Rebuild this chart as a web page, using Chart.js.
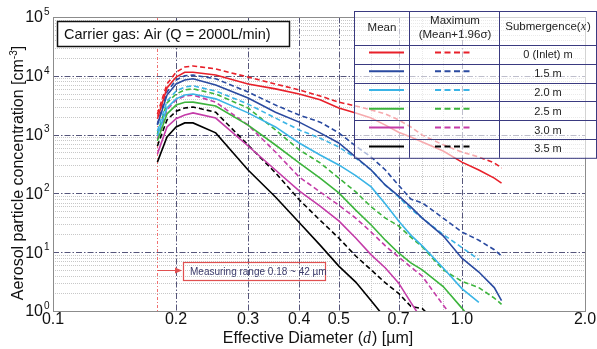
<!DOCTYPE html>
<html>
<head>
<meta charset="utf-8">
<script src="https://cdn.jsdelivr.net/npm/chart.js@4.4.1/dist/chart.umd.min.js"></script>
<style>
  html, body { margin: 0; padding: 0; background: #fff; }
</style>
</head>
<body>
<canvas id="grafico" width="597" height="349"></canvas>
<script>
// diameters (um) where the curves were read
const diameters = [0.18, 0.19, 0.2, 0.21, 0.22, 0.25, 0.3, 0.35, 0.4, 0.45, 0.5, 0.55, 0.6, 0.65, 0.7, 0.75, 0.8, 0.9, 1.0, 1.1, 1.2, 1.25];

// concentrations [cm^-3]
const mean0  = [1860, 6200, 9500, 11500, 11500, 10300, 7250, 6000, 4900, 3900, 2830, 2340, 1910, 1450, 1100, 910, 750, 525, 340, 250, 182, 150];
const max0   = [2240, 7250, 11500, 14100, 14700, 13100, 9500, 7250, 5740, 4540, 3560, 3070, 2630, 2240, 1780, 1350, 980, 670, 505, 415, 330, 270];
const mean15 = [1450, 4700, 7250, 8500, 8900, 6950, 4200, 2400, 1630, 1070, 720, 415, 250, 138, 91, 59, 38, 19, 7.9, 4.6, 2.5, 1.5];
const max15  = [1510, 5300, 8500, 10000, 10300, 8900, 5300, 3180, 2150, 1630, 1070, 640, 415, 250, 138, 80, 69, 38, 22, 16, 11, 8.6];
const mean20 = [955, 2830, 4050, 4700, 4900, 4050, 2340, 1350, 720, 450, 305, 200, 129, 66, 34, 19.5, 12.8, 5.4, 2.4, 1.4, null, null];
const max20  = [1150, 3720, 5500, 6450, 6750, 5500, 3300, 1910, 1200, 870, 615, 400, 250, 138, 87, 54, 38, 20, 12, 7.5, null, null];
const mean25 = [780, 2240, 3180, 3540, 3560, 3070, 1450, 665, 330, 182, 102, 52, 29, 16, 9.7, 6.6, 5, 2.6, 1.12, 0.5, null, null];
const max25  = [1020, 3470, 4900, 5750, 6000, 4900, 2830, 1200, 550, 330, 182, 106, 59, 38, 28, 18, 12.3, 5, 3.2, 2.5, 1.66, 1.3];
const mean30 = [470, 1350, 1860, 2150, 2340, 1910, 640, 250, 110, 61, 34, 17.4, 9, 5.4, 3, 1.4, 0.7, null, null, null, null, null];
const max30  = [850, 2630, 3900, 4540, 4700, 3560, 1450, 505, 190, 106, 63, 38, 22, 12.8, 8.3, 5.6, 3.9, 1.26, 0.5, null, null, null];
const mean35 = [340, 910, 1350, 1580, 1580, 1070, 250, 87, 32, 13.2, 5.8, 3.1, 1.5, 0.75, null, null, null, null, null, null, null, null];
const max35  = [640, 1780, 2500, 2830, 2950, 2400, 665, 224, 78, 35, 17.4, 8.6, 5, 3, 2, 1.2, 1.1, 0.5, null, null, null, null];

const submergence = ['0 (Inlet) m', '1.5 m', '2.0 m', '2.5 m', '3.0 m', '3.5 m'];
const colors = ['#e8202a', '#2a4aa0', '#3ab4e6', '#3cb43c', '#c43ca8', '#000000'];
const meanSeries = [mean0, mean15, mean20, mean25, mean30, mean35];
const maxSeries = [max0, max15, max20, max25, max30, max35];

// axes
const xTicks = [0.1, 0.2, 0.3, 0.4, 0.5, 0.7, 1.0, 2.0];
const xTickLabels = ['0.1', '0.2', '0.3', '0.4', '0.5', '0.7', '1.0', '2.0'];
const xMajorGrid = [0.2, 0.3, 0.4, 0.5, 0.7, 1.0];
const xMinorGrid = [0.6, 0.8, 0.9];
const yExponents = [0, 1, 2, 3, 4, 5];
const measuringStart = 0.18;

const FONT = "'Liberation Sans', Arial, sans-serif";

function toPoints(values) {
    return diameters.map((d, i) => ({ x: d, y: values[i] })).filter(p => p.y != null);
}

const datasets = [];
for (let i = 0; i < 6; i++) {
    datasets.push({
        label: 'Mean ' + submergence[i],
        data: toPoints(meanSeries[i]),
        borderColor: colors[i],
        borderWidth: 1.6,
        pointRadius: 0,
        tension: 0
    });
    datasets.push({
        label: 'Max ' + submergence[i],
        data: toPoints(maxSeries[i]),
        borderColor: colors[i],
        borderWidth: 1.6,
        borderDash: [5, 3],
        pointRadius: 0,
        tension: 0
    });
}

function line(ctx, x1, y1, x2, y2) {
    ctx.beginPath();
    ctx.moveTo(x1, y1);
    ctx.lineTo(x2, y2);
    ctx.stroke();
}

const gridPlugin = {
    id: 'gridPlugin',
    beforeDatasetsDraw(chart) {
        const ctx = chart.ctx;
        const a = chart.chartArea;
        const xs = chart.scales.x, ys = chart.scales.y;
        ctx.save();
        ctx.lineWidth = 1;
        // minor grid
        ctx.strokeStyle = '#c8c8c8';
        ctx.setLineDash([1, 1]);
        for (let e = 0; e < 5; e++) {
            for (let k = 2; k <= 9; k++) {
                const y = Math.round(ys.getPixelForValue(k * Math.pow(10, e))) + 0.5;
                line(ctx, a.left, y, a.right, y);
            }
        }
        xMinorGrid.forEach(v => {
            const x = Math.round(xs.getPixelForValue(v)) + 0.5;
            line(ctx, x, a.top, x, a.bottom);
        });
        // major grid
        ctx.strokeStyle = '#55557a';
        ctx.setLineDash([6, 2, 1.5, 2]);
        for (let e = 1; e < 5; e++) {
            const y = Math.round(ys.getPixelForValue(Math.pow(10, e))) + 0.5;
            line(ctx, a.left, y, a.right, y);
        }
        xMajorGrid.forEach(v => {
            const x = Math.round(xs.getPixelForValue(v)) + 0.5;
            line(ctx, x, a.top, x, a.bottom);
        });
        // measuring range line
        ctx.strokeStyle = '#f07070';
        ctx.setLineDash([3, 2, 1, 2]);
        const xr = Math.round(xs.getPixelForValue(measuringStart)) + 0.5;
        line(ctx, xr, a.top, xr, a.bottom);
        ctx.restore();
    },
    afterDatasetsDraw(chart) {
        const ctx = chart.ctx;
        const a = chart.chartArea;
        const xs = chart.scales.x, ys = chart.scales.y;
        ctx.save();

        // plot frame
        ctx.strokeStyle = '#8c8c8c';
        ctx.lineWidth = 1;
        ctx.setLineDash([]);
        ctx.strokeRect(a.left + 0.5, a.top + 0.5, a.right - a.left, a.bottom - a.top);

        // y tick labels 10^n
        ctx.fillStyle = '#111';
        ctx.textBaseline = 'middle';
        yExponents.forEach(n => {
            const y = ys.getPixelForValue(Math.pow(10, n));
            ctx.font = '16px ' + FONT;
            ctx.textAlign = 'right';
            ctx.fillText('10', 43, y + 1);
            ctx.font = '10px ' + FONT;
            ctx.textAlign = 'left';
            ctx.fillText(String(n), 44, y - 5);
        });

        // x tick labels
        ctx.font = '16px ' + FONT;
        ctx.textAlign = 'center';
        xTicks.forEach((v, i) => {
            ctx.fillText(xTickLabels[i], xs.getPixelForValue(v), 320);
        });

        // y title
        ctx.save();
        ctx.translate(19, 173);
        ctx.rotate(-Math.PI / 2);
        ctx.textAlign = 'left';
        ctx.textBaseline = 'middle';
        const t1 = 'Aerosol particle concentration [cm', t2 = '-3', t3 = ']';
        ctx.font = '16px ' + FONT;
        const w1 = ctx.measureText(t1).width, w3 = ctx.measureText(t3).width;
        ctx.font = '10px ' + FONT;
        const w2 = ctx.measureText(t2).width;
        let sx = -(w1 + w2 + w3) / 2;
        ctx.font = '16px ' + FONT;
        ctx.fillText(t1, sx, 0);
        ctx.font = '10px ' + FONT;
        ctx.fillText(t2, sx + w1, -5);
        ctx.font = '16px ' + FONT;
        ctx.fillText(t3, sx + w1 + w2, 0);
        ctx.restore();

        // x title
        ctx.textBaseline = 'middle';
        ctx.textAlign = 'left';
        const p1 = 'Effective Diameter (', p2 = 'd', p3 = ') [\u00b5m]';
        ctx.font = '16px ' + FONT;
        const q1 = ctx.measureText(p1).width, q3 = ctx.measureText(p3).width;
        ctx.font = 'italic 16px "Liberation Serif", serif';
        const q2 = ctx.measureText(p2).width + 1;
        let tx = 318 - (q1 + q2 + q3) / 2;
        ctx.font = '16px ' + FONT;
        ctx.fillText(p1, tx, 339);
        ctx.font = 'italic 16px "Liberation Serif", serif';
        ctx.fillText(p2, tx + q1, 339);
        ctx.font = '16px ' + FONT;
        ctx.fillText(p3, tx + q1 + q2, 339);

        // carrier gas box
        ctx.fillStyle = '#fff';
        ctx.fillRect(57, 21, 232, 26);
        ctx.strokeStyle = '#111';
        ctx.lineWidth = 1.5;
        ctx.strokeRect(57.5, 21.5, 232, 25);
        ctx.fillStyle = '#111';
        ctx.font = '14.5px ' + FONT;
        ctx.fillText('Carrier gas: Air (Q = 2000L/min)', 64, 34.5);

        // measuring range annotation
        const xr = xs.getPixelForValue(measuringStart);
        ctx.strokeStyle = '#e05050';
        ctx.lineWidth = 1;
        line(ctx, xr, 270.5, 179, 270.5);
        ctx.fillStyle = '#e05050';
        ctx.beginPath();
        ctx.moveTo(182, 270.5);
        ctx.lineTo(175, 267.5);
        ctx.lineTo(175, 273.5);
        ctx.closePath();
        ctx.fill();
        ctx.lineWidth = 1.2;
        ctx.strokeRect(183.5, 262.5, 142, 18);
        ctx.fillStyle = '#3a3a6a';
        ctx.font = '10px ' + FONT;
        ctx.fillText('Measuring range 0.18 ~ 42 \u00b5m', 190, 272);

        // legend table
        const L = 354, R = 596, top = 11, head = 45, rowH = 18.8, c1 = 409, c2 = 499;
        const bottom = head + rowH * 6;
        ctx.fillStyle = 'rgba(255,255,255,0.62)';
        ctx.fillRect(L, top, R - L, bottom - top);
        ctx.strokeStyle = '#3a3a80';
        ctx.lineWidth = 1;
        ctx.strokeRect(L + 0.5, top + 0.5, R - L, bottom - top);
        for (let i = 0; i < 6; i++) {
            const y = Math.round(head + rowH * i) + 0.5;
            line(ctx, L, y, R, y);
        }
        line(ctx, c1 + 0.5, top, c1 + 0.5, bottom);
        line(ctx, c2 + 0.5, top, c2 + 0.5, bottom);

        ctx.fillStyle = '#222';
        ctx.textAlign = 'center';
        ctx.font = '11.5px ' + FONT;
        ctx.fillText('Mean', 382, 28);
        ctx.fillText('Maximum', 455, 21);
        ctx.fillText('(Mean+1.96\u03c3)', 455, 35);
        const s1 = 'Submergence(', s2 = 'x', s3 = ')';
        const m1 = ctx.measureText(s1).width, m3 = ctx.measureText(s3).width;
        ctx.font = 'italic 12px "Liberation Serif", serif';
        const m2 = ctx.measureText(s2).width + 1;
        let ux = 548 - (m1 + m2 + m3) / 2;
        ctx.textAlign = 'left';
        ctx.font = '11.5px ' + FONT;
        ctx.fillText(s1, ux, 27);
        ctx.font = 'italic 12px "Liberation Serif", serif';
        ctx.fillText(s2, ux + m1, 27);
        ctx.font = '11.5px ' + FONT;
        ctx.fillText(s3, ux + m1 + m2, 27);

        ctx.textAlign = 'center';
        ctx.font = '11px ' + FONT;
        for (let i = 0; i < 6; i++) {
            const cy = head + rowH * (i + 0.5);
            ctx.strokeStyle = colors[i];
            ctx.lineWidth = 2;
            ctx.setLineDash([]);
            line(ctx, 369, cy - 2, 404, cy - 2);
            ctx.setLineDash([6, 3.5]);
            line(ctx, 435, cy - 2, 472, cy - 2);
            ctx.setLineDash([]);
            ctx.fillStyle = '#222';
            ctx.fillText(submergence[i], 548, cy + 1);
        }
        ctx.restore();
    }
};

const grafico = new Chart(document.getElementById('grafico'), {
    type: 'line',
    data: { datasets: datasets },
    options: {
        responsive: false,
        animation: false,
        layout: { padding: { left: 0, right: 12, top: 17, bottom: 0 } },
        plugins: { legend: { display: false }, tooltip: { enabled: false } },
        scales: {
            x: {
                type: 'logarithmic',
                min: 0.1,
                max: 2.0,
                afterFit: scale => { scale.height = 38; },
                grid: { display: false },
                border: { display: false },
                ticks: { display: false }
            },
            y: {
                type: 'logarithmic',
                min: 1,
                max: 100000,
                afterFit: scale => { scale.width = 53; },
                grid: { display: false },
                border: { display: false },
                ticks: { display: false }
            }
        }
    },
    plugins: [gridPlugin]
});
</script>
</body>
</html>
